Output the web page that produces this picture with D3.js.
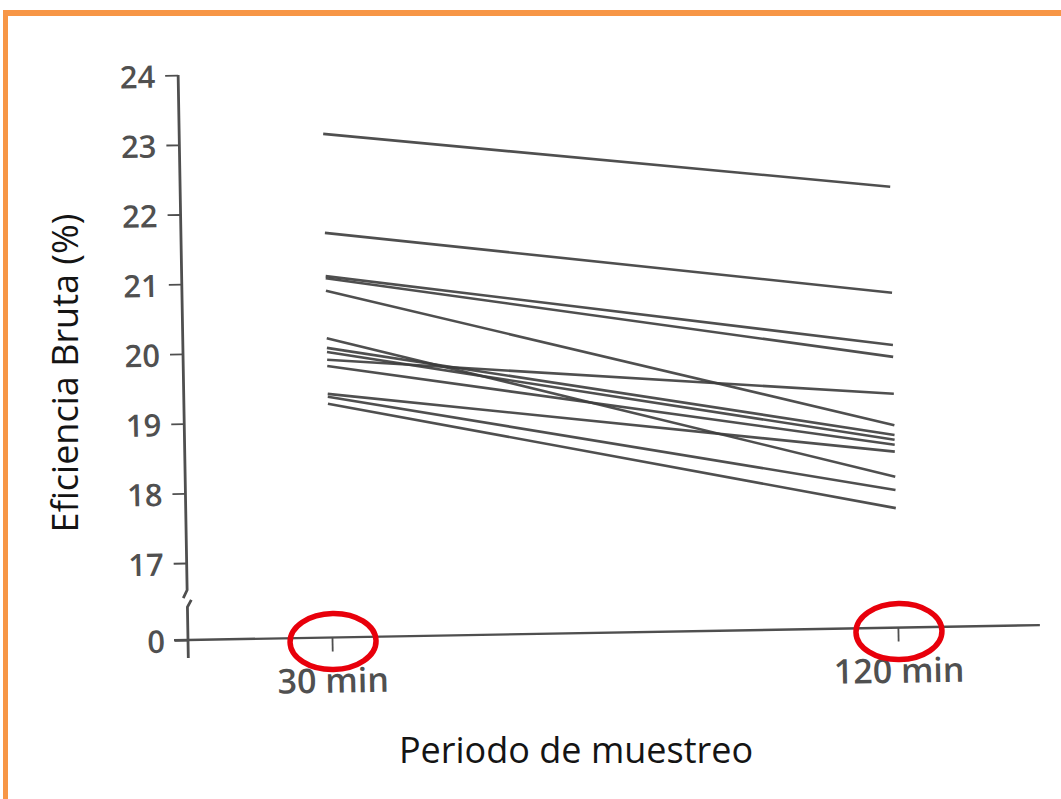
<!DOCTYPE html>
<html>
<head>
<meta charset="utf-8">
<script src="https://cdn.jsdelivr.net/npm/d3@7"></script>
<style>
  html, body { margin: 0; padding: 0; background: #fff; }
  svg { display: block; }
  text { font-family: "Open Sans", "Noto Sans", sans-serif; }
</style>
</head>
<body>
<svg id="chart" width="1061" height="799"></svg>
<script>
// Gross efficiency (%) per subject, measured at two sampling periods
const periods = ["30 min", "120 min"];
const eff30  = [23.12, 21.70, 21.08, 21.05, 20.87, 20.19, 20.05, 19.99, 19.88, 19.79, 19.39, 19.35, 19.25];
const eff120 = [22.22, 20.70, 19.95, 19.78, 18.80, 18.06, 18.66, 18.59, 19.25, 18.52, 18.42, 17.87, 17.61];
const yTicks = [0, 17, 18, 19, 20, 21, 22, 23, 24];

const svg = d3.select("#chart");

// frame edges (top and left)
svg.append("rect").attr("x", 3).attr("y", 10).attr("width", 1058).attr("height", 6).attr("fill", "#F79646");
svg.append("rect").attr("x", 3).attr("y", 10).attr("width", 5).attr("height", 789).attr("fill", "#F79646");

// plot group: origin at the axes' corner, slightly tilted
const g = svg.append("g").attr("transform", "translate(188,640) rotate(-1)");

// y scale with a break between 0 and 17
const y = d3.scaleLinear().domain([0, 17, 24]).range([0, -77, -565]);
const x = d3.scalePoint().domain(periods).range([144, 710]);

const axisColor = "#4f4f4f";

// y axis
const yAxis = g.append("g")
  .call(d3.axisLeft(y).tickValues(yTicks).tickSize(13).tickPadding(10).tickFormat(d3.format("d")));
yAxis.select(".domain").remove();
yAxis.selectAll(".tick line").attr("stroke", axisColor).attr("stroke-width", 1.8);
yAxis.selectAll(".tick text").attr("fill", "#505050").attr("font-size", 31).attr("font-weight", 600).attr("dy", "0.38em");

// y axis line with break marks
g.append("path")
  .attr("d", `M0,${y(24)} L0,-50 L-4,-42`)
  .attr("fill", "none").attr("stroke", axisColor).attr("stroke-width", 2.8);
g.append("path")
  .attr("d", "M4,-40 L0,-33 L0,18")
  .attr("fill", "none").attr("stroke", axisColor).attr("stroke-width", 2.8);

// x axis
const xAxis = g.append("g")
  .call(d3.axisBottom(x).tickSize(14).tickPadding(17));
xAxis.select(".domain").remove();
xAxis.selectAll(".tick line").attr("stroke", axisColor).attr("stroke-width", 1.8);
xAxis.selectAll(".tick text").attr("fill", "#505050").attr("font-size", 34).attr("font-weight", 600);

g.append("line")
  .attr("x1", -14).attr("x2", 852).attr("y1", y(0)).attr("y2", y(0))
  .attr("stroke", axisColor).attr("stroke-width", 2.4);

// one line per subject
const subjects = eff30.map((v, i) => [
  { period: periods[0], value: v },
  { period: periods[1], value: eff120[i] }
]);
const line = d3.line().x(d => x(d.period)).y(d => y(d.value));
g.append("g").selectAll("path")
  .data(subjects)
  .join("path")
  .attr("d", line)
  .attr("fill", "none")
  .attr("stroke", "#3c3c3c")
  .attr("stroke-width", 2.6)
  .attr("stroke-opacity", 0.9);

// red ellipses around the two x ticks
g.append("g").selectAll("ellipse")
  .data(periods)
  .join("ellipse")
  .attr("cx", d => x(d) + 1)
  .attr("cy", 4)
  .attr("rx", 43)
  .attr("ry", 28)
  .attr("fill", "none")
  .attr("stroke", "#E8000B")
  .attr("stroke-width", 5.5);

// axis titles
svg.append("text")
  .attr("x", 576).attr("y", 763)
  .attr("text-anchor", "middle")
  .attr("font-size", 36)
  .attr("fill", "#141414")
  .text("Periodo de muestreo");

svg.append("text")
  .attr("transform", "translate(78,373) rotate(-90)")
  .attr("text-anchor", "middle")
  .attr("font-size", 36)
  .attr("fill", "#141414")
  .text("Eficiencia Bruta (%)");
</script>
</body>
</html>
